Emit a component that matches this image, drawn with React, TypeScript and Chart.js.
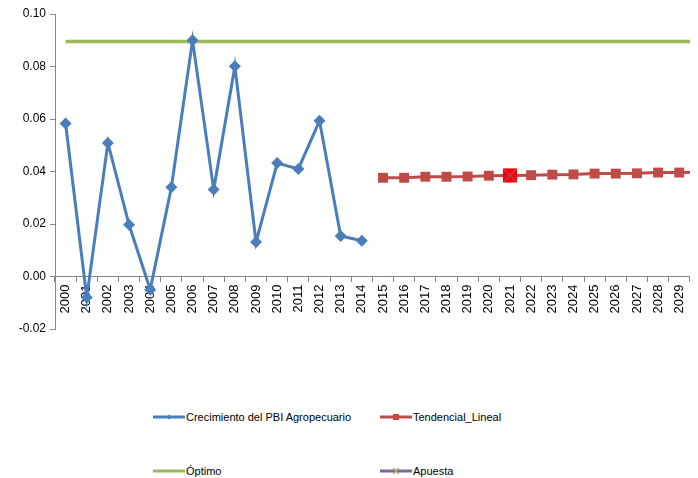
import React, { useEffect, useRef } from "react";
import { Chart, registerables } from "chart.js";

Chart.register(...registerables);

const years: string[] = [
  "2000","2001","2002","2003","2004","2005","2006","2007","2008","2009",
  "2010","2011","2012","2013","2014","2015","2016","2017","2018","2019",
  "2020","2021","2022","2023","2024","2025","2026","2027","2028","2029","2030",
];

const crecimiento: (number | null)[] = [
  0.0583, -0.008, 0.0509, 0.0197, -0.005, 0.034, 0.0900, 0.0331, 0.0801, 0.0131,
  0.0432, 0.041, 0.0593, 0.0154, 0.0136,
];

const tendencial: (number | null)[] = [
  0.0376, 0.0376, 0.0380, 0.0380, 0.0381, 0.0384, 0.0385, 0.0386, 0.0388, 0.0389,
  0.0392, 0.0392, 0.0393, 0.0396, 0.0396, 0.0397,
];

const optimoValue = 0.0895;

const apuestaYears: string[] = ["2021", "2030"];
const apuestaValues: number[] = [0.0385, 0.0397];

const yTicks: number[] = [-0.02, 0.0, 0.02, 0.04, 0.06, 0.08, 0.1];

const BLUE = "#4A7EBB";
const RED = "#BE4B48";
const GREEN = "#9BBB59";
const PURPLE = "#8064A2";
const FONT = "'Liberation Sans', Arial, sans-serif";

export default function App() {
  const ref = useRef<HTMLCanvasElement | null>(null);

  useEffect(() => {
    document.body.style.overflow = "hidden";
    const canvas = ref.current;
    if (!canvas) return;
    const crecData = years.map((_, i) => (i < crecimiento.length ? crecimiento[i] : null));
    const tendData = years.map((_, i) => (i >= 15 ? tendencial[i - 15] : null));
    const optData = years.map(() => optimoValue);
    const apData = years.map((y) => {
      const k = apuestaYears.indexOf(y);
      return k >= 0 ? apuestaValues[k] : null;
    });

    const chart = new Chart(canvas, {
      type: "line",
      data: {
        labels: years,
        datasets: [
          {
            label: "Apuesta_x",
            data: apData,
            showLine: false,
            pointStyle: "crossRot",
            pointRadius: 9,
            pointBorderWidth: 1,
            borderColor: "#6A72C8",
            backgroundColor: "#6A72C8",
            order: -2,
          },
          {
            label: "Apuesta",
            data: apData,
            showLine: false,
            pointStyle: "rect",
            pointRadius: 10,
            pointBorderWidth: 0,
            borderColor: "#FF0000",
            backgroundColor: "#FF0000",
            order: -1,
          },
          {
            label: "Crecimiento del PBI Agropecuario",
            data: crecData,
            borderColor: BLUE,
            backgroundColor: BLUE,
            borderWidth: 3,
            pointStyle: "rectRot",
            pointRadius: 6,
            pointBorderWidth: 0,
            tension: 0,
            order: 0,
          },
          {
            label: "Tendencial_Lineal",
            data: tendData,
            borderColor: RED,
            backgroundColor: RED,
            borderWidth: 3,
            pointStyle: "rect",
            pointRadius: 7,
            pointBorderWidth: 0,
            tension: 0,
            order: 1,
          },
          {
            label: "Óptimo",
            data: optData,
            borderColor: GREEN,
            backgroundColor: GREEN,
            borderWidth: 3.5,
            pointRadius: 0,
            tension: 0,
            order: 3,
          },
        ],
      },
      options: {
        animation: false,
        responsive: false,
        devicePixelRatio: 1,
        layout: { autoPadding: false, padding: { top: 6, right: 0, bottom: 13, left: 0 } },
        plugins: {
          legend: { display: false },
          tooltip: { enabled: false },
        },
        scales: {
          y: {
            min: -0.02,
            max: 0.1,
            afterBuildTicks: (scale: any) => {
              scale.ticks = yTicks.map((v) => ({ value: v }));
            },
            afterFit: (scale: any) => {
              scale.width = 47;
              scale.paddingTop = 0;
              scale.paddingBottom = 0;
            },
            ticks: {
              callback: (v: any) => Number(v).toFixed(2),
              color: "#000",
              font: { family: FONT, size: 12 },
              padding: 4,
            },
            grid: {
              drawOnChartArea: false,
              drawTicks: true,
              tickLength: 5,
              color: "#868686",
            },
            border: { color: "#868686", width: 1 },
          },
          x: {
            position: { y: 0 } as any,
            offset: true,
            afterFit: (scale: any) => {
              scale.paddingRight = 0;
              scale.paddingLeft = 0;
            },
            ticks: {
              autoSkip: false,
              minRotation: 90,
              maxRotation: 90,
              color: "#000",
              font: { family: FONT, size: 13 },
              padding: 3,
            },
            grid: {
              offset: true,
              drawOnChartArea: false,
              drawTicks: true,
              tickLength: 5,
              color: "#868686",
            },
            border: { color: "#868686", width: 1 },
          },
        },
      },
    });
    return () => chart.destroy();
  }, []);

  const textStyle: React.CSSProperties = {
    position: "absolute",
    fontFamily: FONT,
    fontSize: 11,
    color: "#000",
    lineHeight: "14px",
    whiteSpace: "nowrap",
  };

  const legend = [
    { label: "Crecimiento del PBI Agropecuario", color: BLUE, marker: "diamond", x: 145, y: 409 },
    { label: "Tendencial_Lineal", color: RED, marker: "square", x: 372, y: 409 },
    { label: "Óptimo", color: GREEN, marker: "none", x: 145, y: 463 },
    { label: "Apuesta", color: PURPLE, marker: "x", x: 372, y: 463 },
  ];

  return (
    <div style={{ position: "relative", width: 690, height: 470, overflow: "hidden" }}>
      <canvas ref={ref} width={703} height={334} style={{ position: "absolute", left: 0, top: 0 }} />
      {legend.map((l) => (
        <div key={l.label}>
          <svg
            width={32}
            height={10}
            style={{ position: "absolute", left: l.x, top: l.y - 5 }}
          >
            <line x1={1} y1={5} x2={31} y2={5} stroke={l.color} strokeWidth={3} strokeLinecap="round" />
            {l.marker === "diamond" && <polygon points="16,2.5 18.5,5 16,7.5 13.5,5" fill={l.color} />}
            {l.marker === "square" && <rect x={13} y={2} width={6} height={6} fill={l.color} />}
            {l.marker === "x" && (
              <g stroke={GREEN} strokeWidth={1.2}>
                <line x1={13} y1={2} x2={19} y2={8} />
                <line x1={19} y1={2} x2={13} y2={8} />
              </g>
            )}
          </svg>
          <span style={{ ...textStyle, left: l.x + 33, top: l.y - 7 }}>{l.label}</span>
        </div>
      ))}
    </div>
  );
}
